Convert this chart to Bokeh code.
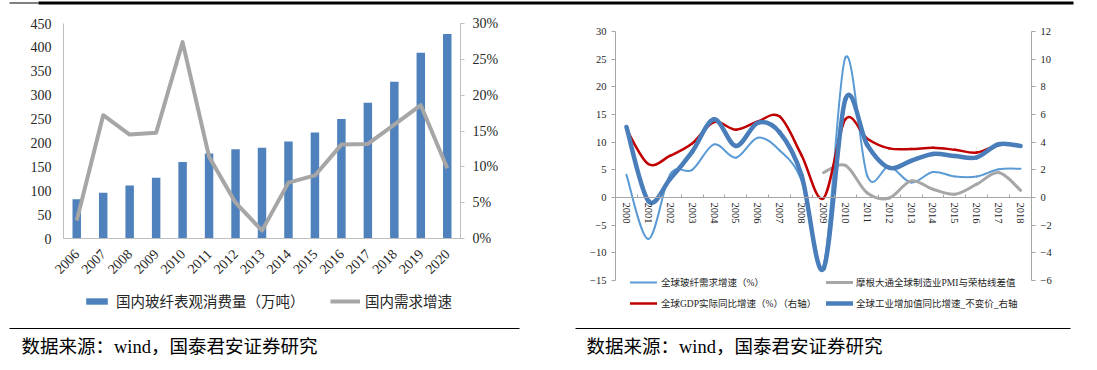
import math
from bokeh.plotting import figure
from bokeh.models import (Range1d, LinearAxis, FixedTicker, PrintfTickFormatter,
                          Legend, LegendItem, Label, BoxAnnotation)
from bokeh.embed import file_html
from bokeh.resources import INLINE

# ---------------- data: left chart ----------------
years_left = [str(y) for y in range(2006, 2021)]
consumption = [82, 96, 111, 127, 160, 178, 187, 190, 203, 222, 250, 284, 328, 389, 428]
growth_pct = [2.5, 17.2, 14.5, 14.75, 27.4, 11.4, 5.0, 1.1, 7.8, 8.8, 13.1, 13.2, 15.9, 18.6, 9.8]
left_ticks = [0, 50, 100, 150, 200, 250, 300, 350, 400, 450]
pct_ticks = [0, 5, 10, 15, 20, 25, 30]

# ---------------- data: right chart ----------------
years_right = list(range(2000, 2019))
glass_demand = [4.1, -7.5, 4.2, 5.0, 9.6, 7.2, 10.8, 8.5, 3.0, -12.5, 25.3, 3.9, 5.6, 2.7, 4.6, 3.8, 3.8, 5.1, 5.2]
pmi_years = list(range(2009, 2019))
pmi_diff = [4.5, 5.8, 0.8, -0.1, 3.0, 1.5, 0.6, 2.4, 4.5, 1.3]
gdp_growth = [4.95, 2.42, 3.02, 3.9, 5.45, 4.9, 5.5, 5.85, 3.05, -0.05, 5.65, 4.25, 3.55, 3.5, 3.6, 3.45, 3.25, 3.8, 3.78]
industry_growth = [5.1, -0.25, 1.35, 3.3, 5.65, 3.72, 5.4, 4.7, 1.6, -5.15, 7.1, 3.8, 2.15, 2.65, 3.15, 3.0, 2.9, 3.85, 3.72]
r_left_ticks = [-15, -10, -5, 0, 5, 10, 15, 20, 25, 30]
r_right_ticks = [-6, -4, -2, 0, 2, 4, 6, 8, 10, 12]

SERIF = '"Liberation Serif", "Noto Sans CJK SC"'
SOURCE = "数据来源：wind，国泰君安证券研究"
W, H = 1097, 370


def rng(v0, p0, v1, p1, total):
    """Range whose value v0 sits at pixel p0 and v1 at pixel p1 (pixels from left / bottom)."""
    k = (p1 - p0) / (v1 - v0)
    return Range1d(v0 - p0 / k, v0 + (total - p0) / k)


def smooth(xs, ys):
    """Bezier control points (Catmull-Rom, like Excel smoothed lines)."""
    n = len(xs)
    out = {k: [] for k in ("x0", "y0", "x1", "y1", "cx0", "cy0", "cx1", "cy1")}
    for i in range(n - 1):
        a = i - 1 if i > 0 else i
        d = i + 2 if i + 2 < n else i + 1
        out["x0"].append(xs[i]); out["y0"].append(ys[i])
        out["x1"].append(xs[i + 1]); out["y1"].append(ys[i + 1])
        out["cx0"].append(xs[i] + (xs[i + 1] - xs[a]) / 6.0)
        out["cy0"].append(ys[i] + (ys[i + 1] - ys[a]) / 6.0)
        out["cx1"].append(xs[i + 1] - (xs[d] - xs[i]) / 6.0)
        out["cy1"].append(ys[i + 1] - (ys[d] - ys[i]) / 6.0)
    return out


p = figure(width=W, height=H, x_range=Range1d(0, W), y_range=Range1d(H, 0),
           x_axis_type=None, y_axis_type=None, output_backend="svg", toolbar_location=None,
           min_border_left=0, min_border_right=0, min_border_top=0, min_border_bottom=0)
p.outline_line_color = None

# ---- coordinate systems (plot areas in page pixels) ----
# left chart: plot area x 63..460, y 23..238
pos_left = [i + 0.5 for i in range(len(years_left))]
p.extra_x_ranges["Lx"] = rng(0, 63, len(years_left), 460, W)
p.extra_y_ranges["Ly"] = rng(0, H - 238, 450, H - 23, H)
p.extra_y_ranges["Lp"] = rng(0, H - 238, 30, H - 23, H)
# right chart: plot area x 615..1031, y 31..280
p.extra_x_ranges["Rx"] = rng(1999.5, 615, 2018.5, 1031, W)
p.extra_y_ranges["Ry"] = rng(-15, H - 280, 30, H - 31, H)
p.extra_y_ranges["Rr"] = rng(-6, H - 280, 12, H - 31, H)


def style_axis(ax, size, color, tick_out, standoff):
    ax.axis_line_color = color
    ax.major_tick_line_color = color if tick_out else None
    ax.major_tick_out = tick_out
    ax.major_tick_in = 0
    ax.minor_tick_line_color = None
    ax.major_label_text_font = SERIF
    ax.major_label_text_font_size = size
    ax.major_label_text_color = "#262626"
    ax.major_label_standoff = standoff


# ================= LEFT CHART =================
bars = p.vbar(x=pos_left, top=consumption, width=0.32, x_range_name="Lx", y_range_name="Ly",
              fill_color="#4F81BD", line_color=None)
gline = p.line(x=pos_left, y=growth_pct, x_range_name="Lx", y_range_name="Lp",
               line_color="#A6A6A6", line_width=4, line_join="round")

LAX = "#BFBFBF"
axl = LinearAxis(x_range_name="Lx", y_range_name="Ly", fixed_location=0, bounds=(0, 450),
                 ticker=FixedTicker(ticks=left_ticks))
style_axis(axl, "14px", LAX, 0, 12)
p.add_layout(axl, "left")

axp = LinearAxis(x_range_name="Lx", y_range_name="Lp", fixed_location=len(years_left),
                 bounds=(0, 30), ticker=FixedTicker(ticks=pct_ticks),
                 formatter=PrintfTickFormatter(format="%d%%"))
style_axis(axp, "14px", LAX, 4, 8)
p.add_layout(axp, "right")

axx = LinearAxis(x_range_name="Lx", y_range_name="Ly", fixed_location=0,
                 bounds=(0, len(years_left)), ticker=FixedTicker(ticks=pos_left),
                 major_label_overrides=dict(zip(pos_left, years_left)))
style_axis(axx, "14px", LAX, 0, 13)
axx.major_label_orientation = math.pi / 4
p.add_layout(axx, "below")

# ================= RIGHT CHART =================
RAX = "#A6A6A6"
axrl = LinearAxis(x_range_name="Rx", y_range_name="Ry", fixed_location=1999.5, bounds=(-15, 30),
                  ticker=FixedTicker(ticks=r_left_ticks))
style_axis(axrl, "10.5px", RAX, 4, 5)
p.add_layout(axrl, "left")

axrr = LinearAxis(x_range_name="Rx", y_range_name="Rr", fixed_location=2018.5, bounds=(-6, 12),
                  ticker=FixedTicker(ticks=r_right_ticks))
style_axis(axrr, "10.5px", RAX, 4, 5)
p.add_layout(axrr, "right")

axrx = LinearAxis(x_range_name="Rx", y_range_name="Ry", fixed_location=0, bounds=(1999.5, 2018.5),
                  ticker=FixedTicker(ticks=years_right,
                                     minor_ticks=[y - 0.5 for y in years_right] + [2018.5]))
style_axis(axrx, "10.5px", RAX, 0, 5)
axrx.minor_tick_line_color = RAX
axrx.minor_tick_in = 3
axrx.minor_tick_out = 0
axrx.major_label_orientation = -math.pi / 2
p.add_layout(axrx, "below")

C_LB, C_GR, C_RED, C_BL = "#5B9BD5", "#A6A6A6", "#C00000", "#4A7EBB"
r_glass = p.bezier(**smooth(years_right, glass_demand), x_range_name="Rx", y_range_name="Ry",
                   line_color=C_LB, line_width=2, line_cap="round")
r_pmi = p.bezier(**smooth(pmi_years, pmi_diff), x_range_name="Rx", y_range_name="Ry",
                 line_color=C_GR, line_width=3, line_cap="round")
r_gdp = p.bezier(**smooth(years_right, gdp_growth), x_range_name="Rx", y_range_name="Rr",
                 line_color=C_RED, line_width=2.5, line_cap="round")
r_ind = p.bezier(**smooth(years_right, industry_growth), x_range_name="Rx", y_range_name="Rr",
                 line_color=C_BL, line_width=4.5, line_cap="round")


# ================= legends, source, rules (page coordinates) =================
def one_legend(r, text, x, ycenter, gw, gh, standoff, size):
    lg = Legend(items=[LegendItem(label=text, renderers=[r])], location=(x, H - (ycenter + 10)),
                orientation="horizontal", padding=0, margin=0, spacing=0,
                glyph_width=gw, glyph_height=gh, label_height=20, label_standoff=standoff,
                label_text_font=SERIF, label_text_font_size=size, label_text_color="#262626",
                border_line_alpha=0, background_fill_alpha=0)
    p.add_layout(lg)


one_legend(bars, "国内玻纤表观消费量（万吨）", 83, 301, 27, 8, 6, "14.5px")
one_legend(gline, "国内需求增速", 330, 301, 30, 20, 5, "14.5px")
one_legend(r_glass, "全球玻纤需求增速（%）", 630, 282, 27, 20, 4, "9.5px")
one_legend(r_pmi, "摩根大通全球制造业PMI与荣枯线差值", 826, 282, 27, 20, 3, "9.5px")
one_legend(r_gdp, "全球GDP实际同比增速（%）（右轴）", 630, 303, 27, 20, 4, "9.5px")
one_legend(r_ind, "全球工业增加值同比增速_不变价_右轴", 826, 303, 27, 20, 3, "9.5px")

for sx in (21, 586):
    p.add_layout(Label(x=sx, y=346, text=SOURCE, text_font=SERIF, text_font_size="18.5px",
                       text_baseline="middle", text_color="black"))


def rule(x0, x1, y0, y1):
    p.add_layout(BoxAnnotation(left=x0, right=x1, top=y0, bottom=y1, fill_color="black",
                               fill_alpha=1, line_color=None, level="overlay"))


rule(9, 38, 2, 3)
rule(38, 1073, 1, 4)
rule(9, 519, 327.5, 328.5)
rule(575, 1070, 327.5, 328.5)

open("out.html", "w").write(file_html(p, INLINE))
